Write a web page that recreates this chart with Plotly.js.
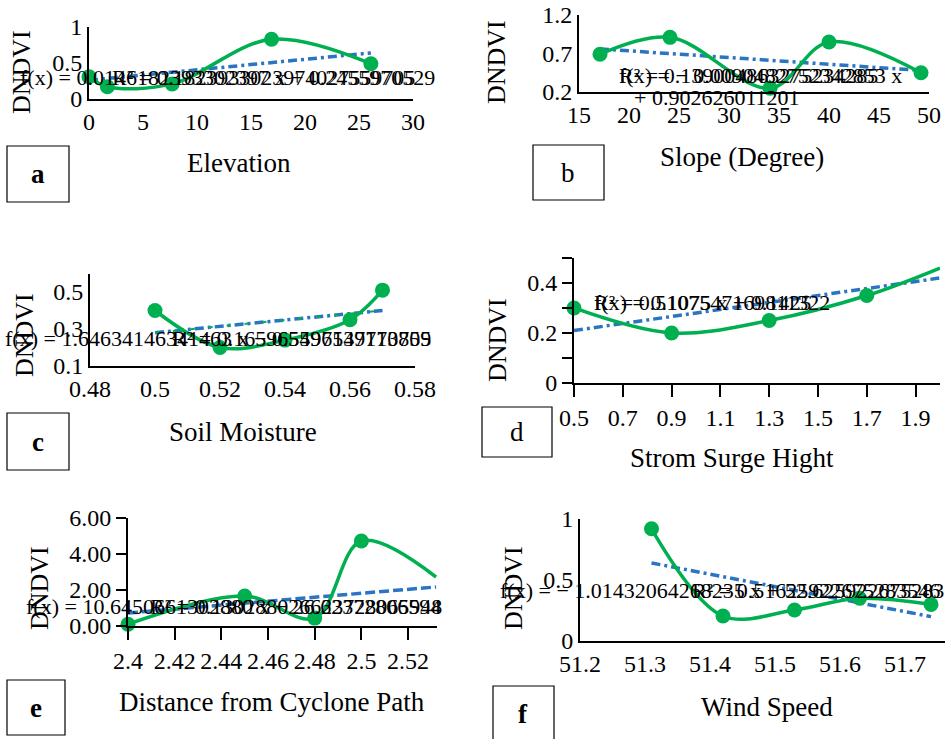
<!DOCTYPE html>
<html><head><meta charset="utf-8">
<script src="https://cdn.plot.ly/plotly-3.0.1.min.js"></script>
<style>html,body{margin:0;padding:0;background:#fff}#chart{width:952px;height:739px}</style>
</head><body><div id="chart"></div>
<script>
// ---------- data ----------
// a: Elevation
const elevX = [0, 1.7, 7.7, 16.9, 26.1];
const elevY = [0.31, 0.17, 0.21, 0.83, 0.49];
const elevTrendX = [0, 26.1];
const elevTrendY = [0.26, 0.64];
const elevXTicks = [0, 5, 10, 15, 20, 25, 30];
const elevYTicks = [0, 0.5, 1];
const elevYText = ['0', '0.5', '1'];
// b: Slope
const slopeX = [17.1, 24.1, 34.1, 40, 49.2];
const slopeY = [0.69, 0.91, 0.25, 0.85, 0.45];
const slopeTrendX = [17.1, 49.2];
const slopeTrendY = [0.76, 0.48];
const slopeXTicks = [15, 20, 25, 30, 35, 40, 45, 50];
const slopeYTicks = [0.2, 0.7, 1.2];
const slopeYText = ['0.2', '0.7', '1.2'];
// c: Soil moisture
const soilX = [0.50, 0.52, 0.54, 0.56, 0.57];
const soilY = [0.40, 0.20, 0.24, 0.35, 0.51];
const soilTrendX = [0.50, 0.57];
const soilTrendY = [0.28, 0.40];
const soilXTicks = [0.48, 0.50, 0.52, 0.54, 0.56, 0.58];
const soilXText = ['0.48', '0.5', '0.52', '0.54', '0.56', '0.58'];
const soilYTicks = [0.1, 0.3, 0.5];
const soilYText = ['0.1', '0.3', '0.5'];
// d: Storm surge height
const surgeX = [0.5, 0.9, 1.3, 1.7];
const surgeY = [0.30, 0.20, 0.25, 0.35];
const surgeCurveX = [0.5, 0.9, 1.3, 1.7, 2.0];
const surgeCurveY = [0.30, 0.20, 0.25, 0.35, 0.46];
const surgeTrendX = [0.5, 2.0];
const surgeTrendY = [0.21, 0.42];
const surgeXTicks = [0.5, 0.7, 0.9, 1.1, 1.3, 1.5, 1.7, 1.9];
const surgeXText = ['0.5', '0.7', '0.9', '1.1', '1.3', '1.5', '1.7', '1.9'];
const surgeYTicks = [0, 0.2, 0.4];
const surgeYText = ['0', '0.2', '0.4'];
// e: Distance from cyclone path
const distX = [2.40, 2.45, 2.48, 2.50];
const distY = [0.10, 1.67, 0.44, 4.72];
const distCurveX = [2.40, 2.45, 2.48, 2.50, 2.532];
const distCurveY = [0.10, 1.67, 0.44, 4.72, 2.72];
const distTrendX = [2.40, 2.532];
const distTrendY = [0.72, 2.17];
const distXTicks = [2.40, 2.42, 2.44, 2.46, 2.48, 2.50, 2.52];
const distXText = ['2.4', '2.42', '2.44', '2.46', '2.48', '2.5', '2.52'];
const distYTicks = [0, 2, 4, 6];
const distYText = ['0.00', '2.00', '4.00', '6.00'];
// f: Wind speed
const windX = [51.31, 51.42, 51.53, 51.63, 51.74];
const windY = [0.92, 0.205, 0.254, 0.35, 0.30];
const windTrendX = [51.31, 51.74];
const windTrendY = [0.64, 0.20];
const windXTicks = [51.2, 51.3, 51.4, 51.5, 51.6, 51.7];
const windXText = ['51.2', '51.3', '51.4', '51.5', '51.6', '51.7'];
const windYTicks = [0, 0.5, 1];
const windYText = ['0', '0.5', '1'];

// trendline labels (as printed, overlapping in the original)
const eqA = ['f(x) = 0.0146182393302397 x + 0.2455970529', 'R² = 0.1823933023974027559705'];
const eqB = ['f(x) = − 0.0090482752342853 x', 'R² = 0.139004863275234285', '+ 0.902626011201'];
const eqC = ['f(x) = 1.64634146341463 x − 0.5596549713705', 'R² = 0.165965497137170859'];
const eqD = ['f(x) = 0.1075 x + 0.1425', 'R² = 0.5107547169811322'];
const eqE = ['f(x) = 10.6450661302880 x − 26.62372806594', 'R² = 0.130288026623728065948'];
const eqF = ['f(x) = − 1.01432064268235 x + 52.625922675283', 'R² = 0.51625922675283546'];

// ---------- layout helpers ----------
const W = 952, H = 739;
const fx = p => p / W;
const fy = p => 1 - p / H;
const FONT = 'Liberation Serif';
const GREEN = '#00b050';
const BLUE = '#2a74c4';

function xax(left, right, range, tickvals, ticktext, anchor, ticks) {
  return {domain: [fx(left), fx(right)], range, anchor, tickvals, ticktext: ticktext || tickvals.map(String),
    showgrid: false, zeroline: false, showline: true, linecolor: '#000', linewidth: 2,
    ticks: ticks ? 'outside' : '', ticklen: 12, tickwidth: 2, tickcolor: '#000',
    tickfont: {family: FONT, size: 24, color: '#000'}, fixedrange: true};
}
function yax(top, bottom, range, tickvals, ticktext, anchor, ticks) {
  return {domain: [fy(bottom), fy(top)], range, anchor, tickvals, ticktext,
    showgrid: false, zeroline: false, showline: true, linecolor: '#000', linewidth: 2,
    ticks: ticks ? 'outside' : '', ticklen: 10, tickwidth: 2, tickcolor: '#000',
    tickfont: {family: FONT, size: 24, color: '#000'}, fixedrange: true};
}

const traces = [];
function panel(n, lineX, lineY, ptX, ptY, trX, trY, dash) {
  const xa = n === 1 ? 'x' : 'x' + n, ya = n === 1 ? 'y' : 'y' + n;
  traces.push({x: trX, y: trY, xaxis: xa, yaxis: ya, mode: 'lines', hoverinfo: 'skip',
    line: {color: BLUE, width: 3.5, dash: dash || '9px,4px,3px,4px'}});
  traces.push({x: lineX, y: lineY, xaxis: xa, yaxis: ya, mode: 'lines', hoverinfo: 'skip',
    line: {color: GREEN, width: 3.5, shape: 'spline', smoothing: 1}});
  traces.push({x: ptX, y: ptY, xaxis: xa, yaxis: ya, mode: 'markers', hoverinfo: 'skip',
    marker: {color: GREEN, size: 15}, cliponaxis: false});
}
panel(1, elevX, elevY, elevX, elevY, elevTrendX, elevTrendY);
panel(2, slopeX, slopeY, slopeX, slopeY, slopeTrendX, slopeTrendY);
panel(3, soilX, soilY, soilX, soilY, soilTrendX, soilTrendY);
// extra green dash-dot trend over the blue one in panel c
traces.push({x: soilTrendX, y: soilTrendY, xaxis: 'x3', yaxis: 'y3', mode: 'lines', hoverinfo: 'skip',
  line: {color: GREEN, width: 2, dash: '4px,14px'}});
panel(4, surgeCurveX, surgeCurveY, surgeX, surgeY, surgeTrendX, surgeTrendY);
panel(5, distCurveX, distCurveY, distX, distY, distTrendX, distTrendY, '10px,4px');
panel(6, windX, windY, windX, windY, windTrendX, windTrendY);

function txt(x, y, text, size, opts) {
  return Object.assign({x: fx(x), y: fy(y), xref: 'paper', yref: 'paper', text, showarrow: false,
    xanchor: 'center', yanchor: 'middle', font: {family: FONT, size: size, color: '#000'}}, opts || {});
}
const L = {xanchor: 'left'};
const EQ = 22;
const annotations = [
  // x-axis titles
  txt(239, 163, 'Elevation', 27),
  txt(742, 157, 'Slope (Degree)', 27),
  txt(243, 432, 'Soil Moisture', 27),
  txt(732, 458, 'Strom Surge Hight', 27),
  txt(272, 702, 'Distance from Cyclone Path', 27),
  txt(767, 707, 'Wind Speed', 27),
  // y-axis titles
  txt(22, 72, 'DNDVI', 26, {textangle: -90}),
  txt(497, 62, 'DNDVI', 26, {textangle: -90}),
  txt(24, 335, 'DNDVI', 26, {textangle: -90}),
  txt(497, 340, 'DNDVI', 26, {textangle: -90}),
  txt(39, 588, 'DNDVI', 26, {textangle: -90}),
  txt(513, 588, 'DNDVI', 26, {textangle: -90}),
  // panel letters
  txt(38, 174, '<b>a</b>', 27),
  txt(568, 173, 'b', 27),
  txt(38, 442, '<b>c</b>', 27),
  txt(517, 432, 'd', 27),
  txt(36, 708, '<b>e</b>', 27),
  txt(523, 714, '<b>f</b>', 27),
  // trendline equations (overlapping, as in the original)
  txt(18, 77, eqA[0], EQ, L),
  txt(110, 77, eqA[1], EQ, L),
  txt(617, 75, eqB[0], EQ, L),
  txt(617, 75, eqB[1], EQ, L),
  txt(632, 97, eqB[2], EQ, L),
  txt(3, 338, eqC[0], EQ, L),
  txt(170, 338, eqC[1], EQ, L),
  txt(592, 303, eqD[0], EQ, L),
  txt(592, 303, eqD[1], EQ, L),
  txt(24, 606, eqE[0], EQ, L),
  txt(148, 606, eqE[1], EQ, L),
  txt(498, 590, eqF[0], EQ, L),
  txt(690, 590, eqF[1], EQ, L)
];

const box = (l, t, r, b) => ({type: 'rect', xref: 'paper', yref: 'paper', x0: fx(l), x1: fx(r), y0: fy(b), y1: fy(t),
  line: {color: '#000', width: 1.2}, fillcolor: 'rgba(0,0,0,0)'});
const shapes = [box(7, 146, 69, 202), box(533, 145, 604, 200), box(7, 413, 69, 470),
  box(482, 407, 552, 457), box(7, 680, 65, 735), box(493, 686, 554, 745)];

const layout = {
  width: W, height: H, margin: {l: 0, r: 0, t: 0, b: 0}, showlegend: false,
  paper_bgcolor: '#fff', plot_bgcolor: 'rgba(0,0,0,0)',
  font: {family: FONT, color: '#000'},
  xaxis:  xax(89, 413, [0, 30], elevXTicks, null, 'y', false),
  yaxis:  yax(27, 99, [0, 1], elevYTicks, elevYText, 'x', false),
  xaxis2: xax(579, 929, [15, 50], slopeXTicks, null, 'y2', false),
  yaxis2: yax(15, 92, [0.2, 1.2], slopeYTicks, slopeYText, 'x2', false),
  xaxis3: xax(90, 415, [0.48, 0.58], soilXTicks, soilXText, 'y3', false),
  yaxis3: yax(273.5, 366, [0.1, 0.6], soilYTicks, soilYText, 'x3', false),
  xaxis4: xax(574, 940, [0.5, 2.0], surgeXTicks, surgeXText, 'y4', true),
  yaxis4: Object.assign(yax(258, 383, [0, 0.5], surgeYTicks, surgeYText, 'x4', true),
    {minor: {tickvals: [0.1, 0.3, 0.5], ticks: 'outside', ticklen: 10, tickwidth: 2, tickcolor: '#000'}}),
  xaxis5: xax(128, 437, [2.4, 2.5324], distXTicks, distXText, 'y5', true),
  yaxis5: yax(518, 626, [0, 6], distYTicks, distYText, 'x5', true),
  xaxis6: xax(580, 945, [51.2, 51.7615], windXTicks, windXText, 'y6', false),
  yaxis6: yax(519, 641, [0, 1], windYTicks, windYText, 'x6', false),
  annotations, shapes
};
Plotly.newPlot('chart', traces, layout, {staticPlot: true, displayModeBar: false});
</script></body></html>
